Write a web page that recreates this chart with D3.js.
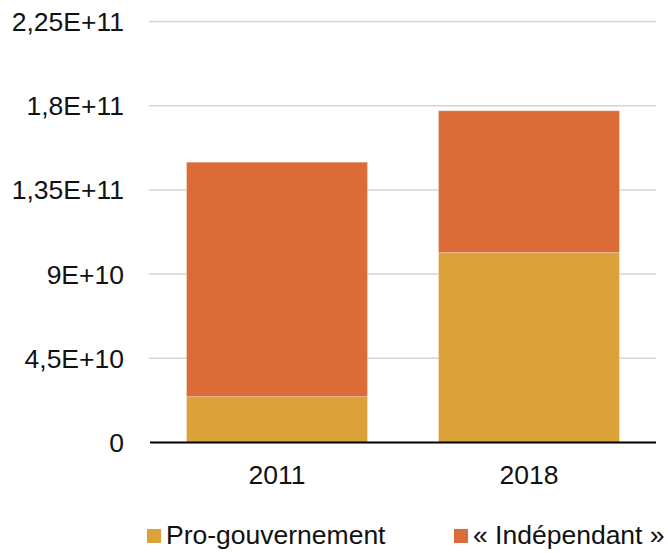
<!DOCTYPE html>
<html>
<head>
<meta charset="utf-8">
<script src="https://cdn.jsdelivr.net/npm/d3@7"></script>
<style>
html,body{margin:0;padding:0;background:#fff;}
svg{display:block;font-family:"Liberation Sans",Arial,sans-serif;}
</style>
</head>
<body>
<svg id="chart" width="668" height="553"></svg>
<script>
const categories = ["2011", "2018"];
const seriesNames = ["Pro-gouvernement", "« Indépendant »"];
const proGouvernement = [2.45e10, 1.015e11];
const independant = [1.253e11, 7.58e10];
const yTicks = [0, 4.5e10, 9e10, 1.35e11, 1.8e11, 2.25e11];
const yTickLabels = ["0", "4,5E+10", "9E+10", "1,35E+11", "1,8E+11", "2,25E+11"];
const colors = ["#DAA238", "#DB6C38"];

const svg = d3.select("#chart");
const x = d3.scaleBand().domain(categories).range([149, 657]).paddingInner(0.282).paddingOuter(0.149);
const y = d3.scaleLinear().domain([0, 2.25e11]).range([442.5, 21.5]);

// gridlines
svg.append("g").selectAll("line").data(yTicks.slice(1)).join("line")
  .attr("x1", 149).attr("x2", 656)
  .attr("y1", d => y(d)).attr("y2", d => y(d))
  .attr("stroke", "#d4d4d4").attr("stroke-width", 1.5);

// y labels
svg.append("g").selectAll("text").data(yTicks).join("text")
  .attr("x", 124).attr("y", d => y(d) + 9.5)
  .attr("text-anchor", "end")
  .attr("font-size", "26.5px").attr("fill", "#111")
  .text((d, i) => yTickLabels[i]);

// stacked bars
const rows = categories.map((c, i) => ({cat: c, pro: proGouvernement[i], ind: independant[i]}));
const stack = d3.stack().keys(["pro", "ind"])(rows);
svg.append("g").selectAll("g").data(stack).join("g")
  .attr("fill", (d, i) => colors[i])
  .selectAll("rect").data(d => d).join("rect")
  .attr("x", d => x(d.data.cat))
  .attr("width", x.bandwidth())
  .attr("y", d => y(d[1]))
  .attr("height", d => y(d[0]) - y(d[1]))
  .attr("stroke", "rgba(255,255,255,0.25)").attr("stroke-width", 1);

// baseline
svg.append("line").attr("x1", 150).attr("x2", 656).attr("y1", y(0)).attr("y2", y(0))
  .attr("stroke", "#000").attr("stroke-width", 2);

// x labels
svg.append("g").selectAll("text").data(categories).join("text")
  .attr("x", d => x(d) + x.bandwidth() / 2).attr("y", 484)
  .attr("text-anchor", "middle").attr("font-size", "26.5px").attr("fill", "#111")
  .text(d => d);

// legend
const legendX = [147, 454];
const lg = svg.append("g").selectAll("g").data(seriesNames).join("g")
  .attr("transform", (d, i) => `translate(${legendX[i]},0)`);
lg.append("rect").attr("x", 0).attr("y", 529).attr("width", 14).attr("height", 14)
  .attr("fill", (d, i) => colors[i]);
lg.append("text").attr("x", 19).attr("y", 543.5).attr("font-size", "26.5px").attr("fill", "#111")
  .text(d => d);
</script>
</body>
</html>
